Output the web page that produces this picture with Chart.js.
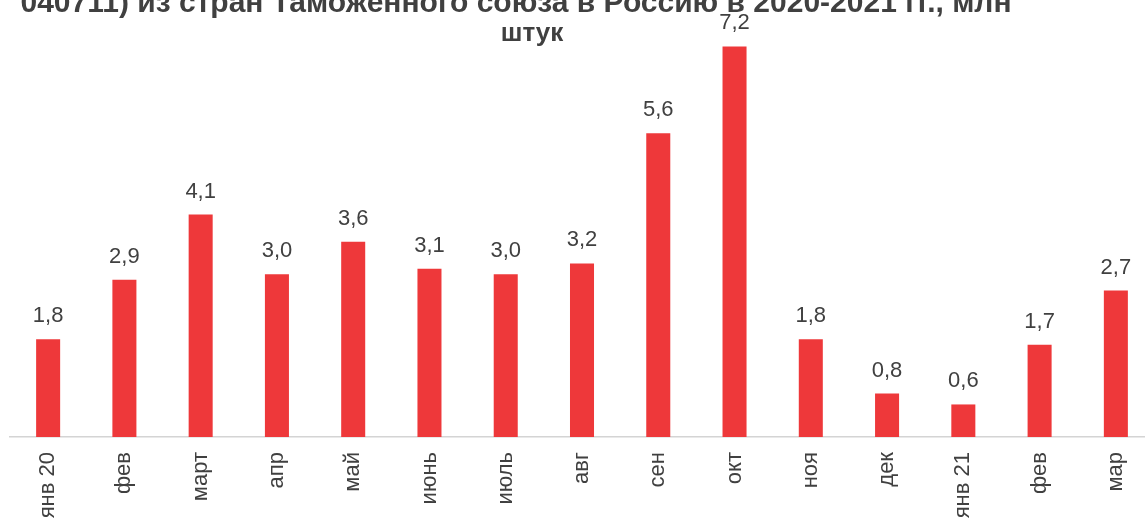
<!DOCTYPE html>
<html>
<head>
<meta charset="utf-8">
<script src="https://cdn.jsdelivr.net/npm/chart.js@4/dist/chart.umd.min.js"></script>
<style>
  html, body { margin: 0; padding: 0; overflow: hidden; background: #fff; }
  body { width: 1145px; height: 522px; position: relative; }
  #wrap { position: absolute; left: 0; top: -60px; width: 1164px; height: 587px; }
</style>
</head>
<body>
<div id="wrap"><canvas id="chart"></canvas></div>
<script>
const months = ['янв 20', 'фев', 'март', 'апр', 'май', 'июнь', 'июль', 'авг', 'сен', 'окт', 'ноя', 'дек', 'янв 21', 'фев', 'мар'];
const imports = [1.8, 2.9, 4.1, 3.0, 3.6, 3.1, 3.0, 3.2, 5.6, 7.2, 1.8, 0.8, 0.6, 1.7, 2.7];
const titleLines = [
    'Импорт яиц куриных (код ТН ВЭД',
    '040711) из стран Таможенного союза в Россию в 2020-2021 гг., млн',
    'штук'
];

const textColor = '#404040';

// title is drawn by hand so it can sit off-centre like the original
const titlePlugin = {
    id: 'titleText',
    beforeDraw(chart) {
        const ctx = chart.ctx;
        ctx.save();
        ctx.fillStyle = textColor;
        ctx.textAlign = 'center';
        ctx.textBaseline = 'alphabetic';
        ctx.font = 'bold 30px "Liberation Sans", Arial, sans-serif';
        ctx.fillText(titleLines[0], 516, 38);
        ctx.fillText(titleLines[1], 516, 72);
        ctx.font = 'bold 26px "Liberation Sans", Arial, sans-serif';
        ctx.fillText(titleLines[2], 532, 101);
        ctx.restore();
    }
};

const valueLabels = {
    id: 'valueLabels',
    afterDatasetsDraw(chart) {
        const ctx = chart.ctx;
        const meta = chart.getDatasetMeta(0);
        ctx.save();
        ctx.font = '22px "Liberation Sans", Arial, sans-serif';
        ctx.fillStyle = textColor;
        ctx.textAlign = 'center';
        ctx.textBaseline = 'alphabetic';
        meta.data.forEach((bar, i) => {
            ctx.fillText(imports[i].toFixed(1).replace('.', ','), bar.x, bar.y - 17);
        });
        ctx.restore();
    }
};

new Chart(document.getElementById('chart'), {
    type: 'bar',
    data: {
        labels: months,
        datasets: [{
            data: imports,
            backgroundColor: 'rgb(238,56,58)',
            borderColor: 'rgb(238,56,58)',
            borderWidth: 0,
            categoryPercentage: 1,
            barPercentage: 0.315
        }]
    },
    options: {
        responsive: true,
        maintainAspectRatio: false,
        animation: false,
        layout: {
            padding: { top: 63, left: 10, right: 10, bottom: 0 }
        },
        scales: {
            y: {
                display: false,
                min: 0,
                max: 8
            },
            x: {
                grid: { display: false, drawTicks: false },
                border: { display: true, color: '#d4d4d4', width: 1.5 },
                ticks: {
                    color: textColor,
                    font: { family: '"Liberation Sans", Arial, sans-serif', size: 22 },
                    minRotation: 90,
                    maxRotation: 90,
                    autoSkip: false,
                    padding: 15
                },
                afterFit(scale) {
                    scale.height = 90;
                }
            }
        },
        plugins: {
            legend: { display: false },
            tooltip: { enabled: false }
        }
    },
    plugins: [titlePlugin, valueLabels]
});
</script>
</body>
</html>
